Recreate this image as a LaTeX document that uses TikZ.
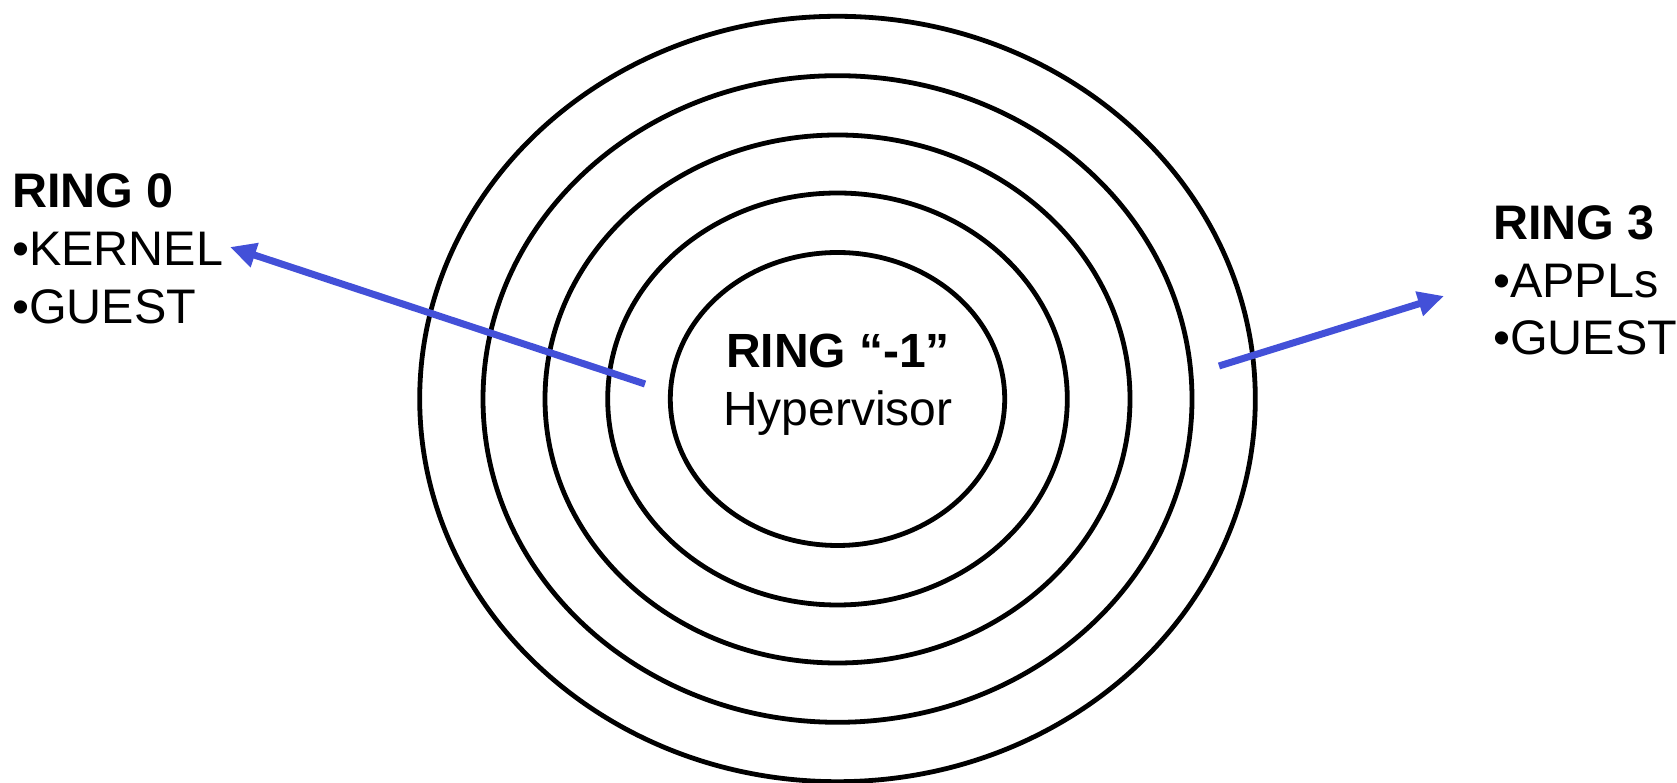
\documentclass[tikz,border=0pt]{standalone}
\usepackage{fontspec}
\setmainfont{Liberation Sans}
\usetikzlibrary{arrows.meta}
\definecolor{arrowblue}{RGB}{67,80,216}
\begin{document}
\begin{tikzpicture}[x=1pt,y=1pt,
  ring/.style={draw=black,line width=4.8pt},
  conn/.style={draw=arrowblue,line width=7pt,-{Triangle[length=26pt,width=24pt]}},
  lbl/.style={inner sep=0pt,anchor=base west,font=\fontsize{48.5}{56}\selectfont},
  ctr/.style={inner sep=0pt,anchor=base,font=\fontsize{48}{56}\selectfont}]
\useasboundingbox (0,0) rectangle (1677,783);
\coordinate (c) at (837.5,384);
\draw[ring] (c) ellipse [x radius=417.8, y radius=382.7];
\draw[ring] (c) ellipse [x radius=354.5, y radius=323.3];
\draw[ring] (c) ellipse [x radius=292.5, y radius=264];
\draw[ring] (c) ellipse [x radius=229.8, y radius=206];
\draw[ring] (c) ellipse [x radius=167.2, y radius=146.5];
% centre labels
\node[ctr] (hvtitle) at (838,415) {\bfseries RING “-1”};
\node[ctr] (hv) at (838,357) {Hypervisor};
% left labels
\node[lbl] (r0title) at (12,575) {\bfseries RING 0};
\node[lbl] (r0a) at (12,517) {•KERNEL};
\node[lbl] (r0b) at (12,459) {•GUEST};
% right labels
\node[lbl] (r3title) at (1493,543) {\bfseries RING 3};
\node[lbl] (r3a) at (1493,485) {•APPLs};
\node[lbl] (r3b) at (1493,428) {•GUEST};
% arrows
\coordinate (ls) at (645,399);
\coordinate (le) at (230,536);
\coordinate (rs) at (1219,417);
\coordinate (re) at (1444,487);
\draw[conn] (ls) -- (le);
\draw[conn] (rs) -- (re);
\end{tikzpicture}
\end{document}
